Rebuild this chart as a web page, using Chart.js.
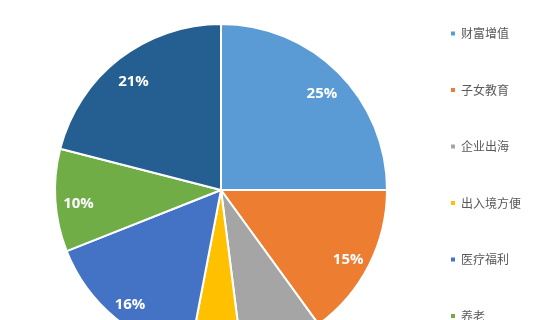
<!DOCTYPE html>
<html>
<head>
<meta charset="utf-8">
<script src="https://cdn.jsdelivr.net/npm/chart.js@4/dist/chart.umd.min.js"></script>
<style>
  html, body { margin: 0; padding: 0; background: #fff; overflow: hidden; width: 540px; height: 320px; }
  /* the pie runs past the bottom edge, so the canvas is taller than the window and lifted a bit */
  canvas { display: block; margin-top: -43px; }
</style>
</head>
<body>
<canvas id="chart" width="540" height="466"></canvas>
<script>
// slices, clockwise from 12 o'clock (the last legend entry is cut off in the picture)
const categories = ["财富增值", "子女教育", "企业出海", "出入境方便", "医疗福利", "养老", "其他"];
const shares = [25, 15, 8, 5, 16, 10, 21];
const sliceColors = ["#5B9BD5", "#ED7D31", "#A5A5A5", "#FFC000", "#4472C4", "#70AD47", "#255E91"];

// percentage text inside each slice
const percentLabels = {
  id: "percentLabels",
  afterDatasetsDraw(chart) {
    const {ctx} = chart;
    const meta = chart.getDatasetMeta(0);
    ctx.save();
    ctx.font = "bold 15px 'Open Sans'";
    ctx.fillStyle = "#ffffff";
    ctx.textAlign = "center";
    ctx.textBaseline = "middle";
    meta.data.forEach((arc, i) => {
      const {x, y, startAngle, endAngle, outerRadius} =
        arc.getProps(["x", "y", "startAngle", "endAngle", "outerRadius"], true);
      const mid = (startAngle + endAngle) / 2;
      const r = outerRadius * 0.86;
      // labels sit a little under the mid-angle point
      ctx.fillText(`${shares[i]}%`, x + Math.cos(mid) * r, y + Math.sin(mid) * r + 5);
    });
    ctx.restore();
  },
};

new Chart(document.getElementById("chart"), {
  type: "pie",
  data: {
    labels: categories,
    datasets: [{
      data: shares,
      backgroundColor: sliceColors,
      borderColor: "#ffffff",
      borderWidth: 2,
      radius: 166,
    }],
  },
  options: {
    responsive: false,
    animation: false,
    devicePixelRatio: 1,
    layout: {padding: {left: 35.5, right: 9, top: 0, bottom: 0}},
    plugins: {
      tooltip: {enabled: false},
      legend: {
        position: "right",
        align: "end",
        labels: {
          boxWidth: 4,
          boxHeight: 4,
          padding: 44.5,
          color: "#595959",
          font: {family: "'Noto Sans CJK SC'", size: 12},
          generateLabels: () => categories.map((text, i) => ({
            text,
            fillStyle: sliceColors[i],
            strokeStyle: sliceColors[i],
            lineWidth: 0,
            hidden: false,
            index: i,
            fontColor: "#595959",
          })),
        },
      },
    },
  },
  plugins: [percentLabels],
});
</script>
</body>
</html>
